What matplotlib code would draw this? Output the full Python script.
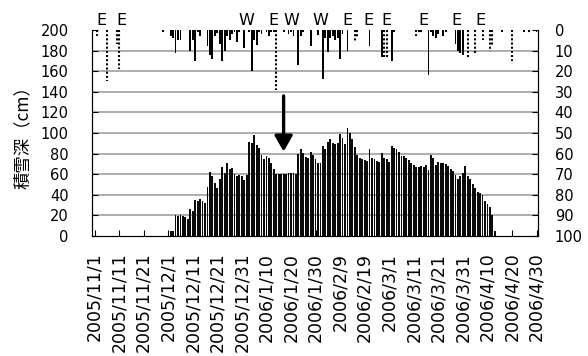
import matplotlib
matplotlib.use('Agg')
import matplotlib.pyplot as plt
import matplotlib.transforms as mtransforms
import numpy as np

# day 0 = 2005/11/1 ... day 180 = 2006/4/30
tick_labels = ['2005/11/1', '2005/11/11', '2005/11/21', '2005/12/1', '2005/12/11',
               '2005/12/21', '2005/12/31', '2006/1/10', '2006/1/20', '2006/1/30',
               '2006/2/9', '2006/2/19', '2006/3/1', '2006/3/11', '2006/3/21',
               '2006/3/31', '2006/4/10', '2006/4/20', '2006/4/30']

# snow depth (cm), days 31..163, zero elsewhere
depth_season = [5, 5,
                20, 19, 20, 19, 18, 17, 26, 24,
                35, 34, 36, 34, 32, 48, 62, 58, 51, 47, 55,
                67, 61, 71, 65, 66, 60, 58, 59, 58, 54, 59,
                91, 90, 98, 88, 85, 79, 75, 78, 76, 71, 65,
                60, 60, 60, 60, 60, 61, 61, 61, 60,
                80, 84, 81, 77, 76, 82, 79, 75, 71, 71,
                87, 84, 91, 94, 90, 89, 90,
                99, 95, 89, 105, 100, 94, 86, 79, 76, 75, 74, 73,
                84, 76, 75, 73, 72, 81, 76, 75, 72,
                87, 85, 84, 82, 78, 78, 76, 74,
                71, 69, 67, 67, 68, 67, 69, 64,
                79, 76, 69, 72, 71, 71, 70, 68, 65, 63, 59, 55, 58, 61,
                68, 58, 55, 50, 47, 43, 42, 40, 34, 31, 28, 20, 5]
depth = [0] * 31 + depth_season
depth = depth + [0] * (181 - len(depth))

# precipitation hanging from the top (right axis), solid bars
solid_days = [28, 31, 32, 33, 34, 35, 39, 40, 41, 42, 43, 46, 47, 48, 49, 50, 51,
              52, 53, 54, 55, 56, 57, 58, 59, 61, 63, 64, 65, 66, 67, 68, 70, 71,
              72, 73, 77, 79, 80, 81, 83, 84, 85, 88, 91, 93, 94, 95, 96, 97, 98,
              99, 100, 101, 103, 112, 117, 121, 122, 133, 136, 137, 138, 139, 140,
              142, 143, 147, 148, 149, 150, 166, 175, 180]
solid_vals = [1, 3, 4, 11, 5, 5, 10, 5, 15, 1, 3, 8, 12, 14, 3, 1.5, 7,
              15, 10, 3, 5, 2, 1, 6, 1, 9, 1, 20, 5, 7.5, 1, 2, 1, 3,
              1, 1, 1, 2, 1, 3, 17, 3, 1, 8, 2.5, 24, 4, 10.5, 4, 3, 5,
              4, 14, 2, 10, 8, 13, 15, 1, 1, 22, 1, 3, 4, 2,
              3, 1, 7, 10, 11, 12, 1, 1, 1]

# dotted bars
dot_days = [1, 5, 9, 10, 74, 106, 107, 118, 119, 131, 132, 152, 155, 158, 161, 162, 170, 177]
dot_vals = [3, 25, 7, 19, 29, 6, 4, 13, 14, 3, 2, 14, 12, 5, 10, 8, 15, 2]

# letters above the plot
mark_days = [3, 11, 62, 73, 80, 92, 103, 111.5, 119, 134, 147.5, 157]
mark_text = ['E', 'E', 'W', 'E', 'W', 'W', 'E', 'E', 'E', 'E', 'E', 'E']

days = np.arange(len(depth))

fig = plt.figure(figsize=(5.88, 3.56), dpi=100)
ax = fig.add_axes([0.157, 0.337, 0.758, 0.579])
ax2 = ax.twinx()

for yv in range(20, 181, 20):
    ax.axhline(yv, color='#a0a0a0', lw=1.2, zorder=1)
ax.bar(days, depth, width=0.75, color='#0a0a0a', zorder=3)

ax.set_xlim(-0.9, 180.6)
ax.set_ylim(0, 200)
ax.set_yticks(range(0, 201, 20))
ax.set_xticks(range(0, 181, 10))
ax.set_xticklabels(tick_labels, rotation=90, va='top', ha='center')
ax.tick_params(axis='x', direction='in', length=4, pad=12, labelsize=12.5)
ax.tick_params(axis='y', direction='in', length=4, pad=17, labelsize=10.5)
ax.spines['top'].set_visible(False)

ax.set_ylabel('積雪深（cm）', family=['Noto Sans CJK JP', 'DejaVu Sans'], fontsize=12.5)
ax.yaxis.set_label_coords(-0.135, 0.5)

ax2.bar(solid_days, solid_vals, width=0.75, color='black', zorder=3)
ax2.vlines(dot_days, 0, dot_vals, colors='black', linewidth=1.5, linestyles=(0, (1, 1)))
ax2.set_ylim(100, 0)
ax2.set_yticks(range(0, 101, 10))
ax2.tick_params(axis='y', direction='in', length=4, pad=12, labelsize=10.5)
ax2.spines['top'].set_visible(False)

trans = mtransforms.blended_transform_factory(ax.transData, ax.transAxes)
for d, s in zip(mark_days, mark_text):
    ax.text(d, 1.01, s, transform=trans, ha='center', va='bottom', fontsize=11.5)

ax2.annotate('', xy=(77, 59), xytext=(77, 32),
             arrowprops=dict(arrowstyle='-|>,head_length=0.47,head_width=0.27',
                             lw=2.4, color='black', mutation_scale=20,
                             shrinkA=0, shrinkB=0))

fig.savefig('out.png', dpi=100)
